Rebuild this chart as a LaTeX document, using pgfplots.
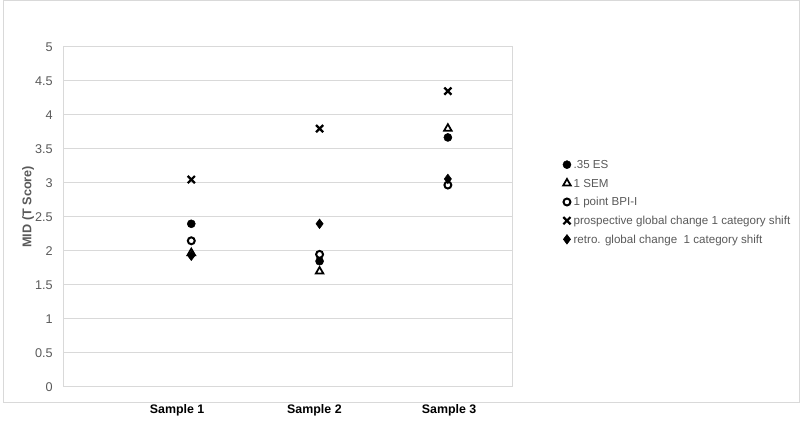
\documentclass[border=0pt]{standalone}
\usepackage{pgfplots}
\pgfplotsset{compat=1.18}
\usepackage{fontspec}
\setmainfont{Liberation Sans}
\definecolor{gridc}{HTML}{D9D9D9}
\definecolor{txt}{HTML}{595959}
\begin{document}
\begin{tikzpicture}
\begin{scope}[x=0.75pt,y=0.75pt]
\path (0,0) rectangle (800,419);
\draw[gridc, line width=0.75pt] (3,16) rectangle (799,418);
\end{scope}
\begin{axis}[
  at={(47.25pt,24pt)}, anchor=south west, scale only axis,
  width=336.75pt, height=255pt,
  xmin=0, xmax=3.5, ymin=0, ymax=5,
  ytick={0,0.5,1,1.5,2,2.5,3,3.5,4,4.5,5},
  xtick={0.89,1.96,3.01},
  xticklabels={Sample 1,Sample 2,Sample 3},
  /pgf/number format/assume math mode=true,
  ymajorgrids, grid style={gridc, line width=0.75pt},
  axis line style={gridc, line width=0.75pt},
  major tick length=0pt,
  yticklabel style={font=\fontsize{9.5}{11}\selectfont, text=txt, inner sep=0pt, xshift=-7.5pt},
  xticklabel style={font=\fontsize{9.3}{11}\selectfont\bfseries, text=black, anchor=base, yshift=-20.25pt},
  ylabel={MID (T Score)},
  every axis y label/.style={at={(axis description cs:-0.078,0.53)}, rotate=90, anchor=center,
    font=\fontsize{9.5}{11}\selectfont\bfseries, text=txt},
  legend style={at={(axis description cs:1.104,0.69)}, anchor=north west, draw=none, fill=none,
    font=\fontsize{8.7}{10}\selectfont, text=txt, row sep=0pt,
    nodes={inner sep=2pt, text height=8pt, text depth=2pt}},
  legend cell align=left,
  legend image code/.code={\draw[#1] plot coordinates {(0.08cm,0cm)};},
]
\addplot[only marks, mark=*, mark size=3pt, black] coordinates {(1,2.40) (2,1.85) (3,3.67)};
\addlegendentry{.35 ES}
\addplot[only marks, mark=triangle*, mark size=3.3pt, black, line width=1.3pt, mark options={fill=white}] coordinates {(1,1.97) (2,1.70) (3,3.80)};
\addlegendentry{1 SEM}
\addplot[only marks, mark=*, mark size=2.6pt, black, line width=1.5pt, mark options={fill=white}] coordinates {(1,2.15) (2,1.95) (3,2.97)};
\addlegendentry{1 point BPI-I}
\addplot[only marks, mark=x, mark size=3.8pt, black, line width=1.7pt] coordinates {(1,3.05) (2,3.80) (3,4.35)};
\addlegendentry{prospective global change 1 category shift}
\addplot[only marks, mark=diamond*, mark size=3.6pt, black] coordinates {(1,1.93) (2,2.40) (3,3.06)};
\addlegendentry{retro. global change\ \ 1 category shift}
\end{axis}
\end{tikzpicture}
\end{document}
